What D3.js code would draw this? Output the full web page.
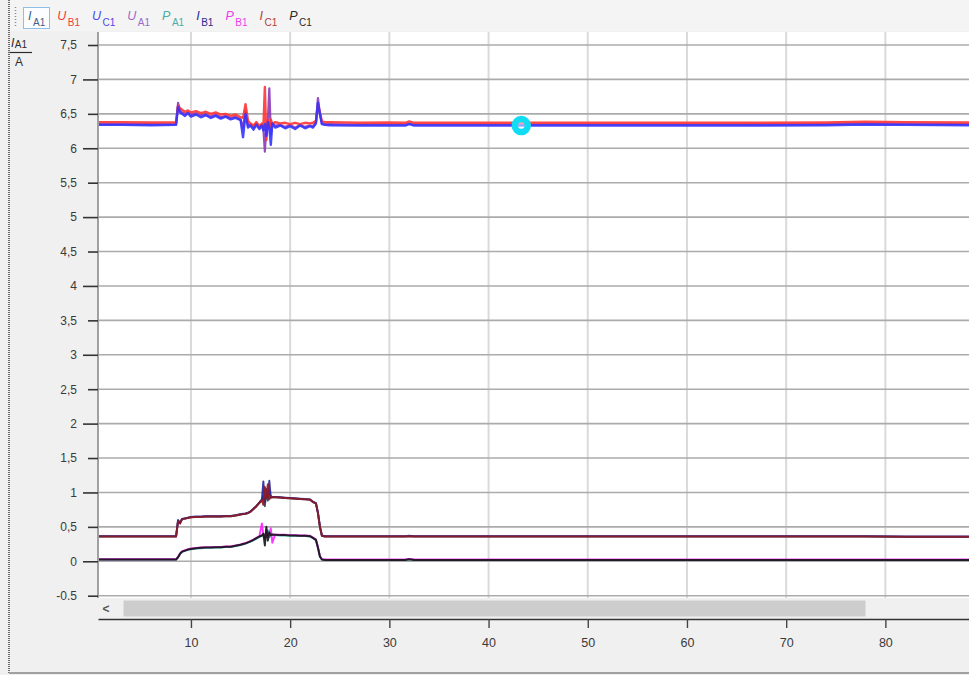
<!DOCTYPE html>
<html>
<head>
<meta charset="utf-8">
<script src="https://cdn.jsdelivr.net/npm/d3@7"></script>
<style>
  html, body { margin: 0; padding: 0; background: #f0f0f0; }
  svg { display: block; font-family: "Liberation Sans", Arial, sans-serif; }
</style>
</head>
<body>
<svg id="chart" width="969" height="675"></svg>
<script>
// ---- recorded channels (time in s) ----
const time = [0.6, 3, 6, 8.5, 8.7, 8.9, 9.1, 9.4, 9.7, 10, 10.5, 11, 11.5, 12, 12.5, 13, 13.5, 14, 14.5, 15,
  15.25, 15.5, 15.75, 16, 16.3, 16.6, 16.9, 17.15, 17.3, 17.45, 17.6, 17.75, 17.9, 18.05, 18.2,
  18.5, 19, 19.5, 20, 20.5, 21, 21.5, 22, 22.3, 22.6, 22.8, 23, 23.2, 23.5, 24,
  27, 30, 31.6, 32, 32.5, 36, 42, 50, 58, 66, 74, 78, 82, 88.5];

const uA1 = [6.35, 6.35, 6.35, 6.35,
  6.66, 6.55, 6.52, 6.50, 6.52, 6.49, 6.51, 6.48, 6.50, 6.46, 6.49, 6.45, 6.47, 6.44, 6.46, 6.42,
  6.30, 6.55, 6.33, 6.35, 6.30, 6.36, 6.30, 6.34, 6.28, 5.95, 6.30, 6.40, 6.87, 6.20, 6.36,
  6.33, 6.34, 6.31, 6.34, 6.30, 6.34, 6.31, 6.33, 6.32, 6.38, 6.73, 6.50, 6.36, 6.35, 6.35,
  6.345, 6.345, 6.345, 6.36, 6.345, 6.345, 6.345, 6.345, 6.345, 6.345, 6.35, 6.36, 6.355, 6.35];

const uB1 = [6.38, 6.38, 6.375, 6.38,
  6.62, 6.58, 6.56, 6.53, 6.55, 6.52, 6.54, 6.51, 6.53, 6.50, 6.52, 6.49, 6.50, 6.47, 6.49, 6.45,
  6.44, 6.64, 6.40, 6.36, 6.33, 6.38, 6.32, 6.36, 6.30, 6.89, 6.12, 6.40, 6.30, 6.42, 6.35,
  6.38, 6.36, 6.37, 6.35, 6.37, 6.35, 6.37, 6.36, 6.37, 6.40, 6.63, 6.52, 6.39, 6.38, 6.38,
  6.37, 6.375, 6.37, 6.39, 6.37, 6.37, 6.37, 6.37, 6.37, 6.37, 6.375, 6.385, 6.38, 6.375];

const uC1 = [6.34, 6.34, 6.335, 6.34,
  6.60, 6.52, 6.50, 6.47, 6.51, 6.46, 6.49, 6.45, 6.48, 6.44, 6.47, 6.43, 6.46, 6.42, 6.44, 6.41,
  6.16, 6.50, 6.30, 6.33, 6.27, 6.34, 6.28, 6.33, 6.26, 6.35, 6.18, 6.38, 6.30, 6.05, 6.36,
  6.30, 6.33, 6.29, 6.32, 6.28, 6.33, 6.29, 6.32, 6.30, 6.36, 6.66, 6.50, 6.35, 6.34, 6.335,
  6.33, 6.33, 6.33, 6.35, 6.33, 6.33, 6.33, 6.33, 6.33, 6.33, 6.335, 6.345, 6.34, 6.335];

const iA1 = [0.36, 0.36, 0.36, 0.36,
  0.59, 0.55, 0.615, 0.62, 0.63, 0.64, 0.645, 0.645, 0.65, 0.65, 0.65, 0.65, 0.655, 0.655, 0.665, 0.68,
  0.685, 0.69, 0.70, 0.72, 0.76, 0.80, 0.85, 0.89, 0.95, 0.80, 1.00, 0.88, 1.02, 0.92, 0.93,
  0.93, 0.925, 0.92, 0.915, 0.91, 0.905, 0.90, 0.895, 0.86, 0.84, 0.70, 0.50, 0.37, 0.36, 0.36,
  0.36, 0.36, 0.36, 0.365, 0.36, 0.36, 0.36, 0.36, 0.36, 0.36, 0.36, 0.36, 0.355, 0.355];

const iB1 = [0.365, 0.365, 0.365, 0.365,
  0.60, 0.56, 0.615, 0.625, 0.635, 0.645, 0.65, 0.65, 0.655, 0.655, 0.655, 0.655, 0.66, 0.66, 0.67, 0.685,
  0.69, 0.695, 0.705, 0.725, 0.765, 0.805, 0.855, 0.90, 1.16, 0.86, 1.05, 0.92, 1.17, 0.93, 0.935,
  0.935, 0.93, 0.925, 0.92, 0.915, 0.91, 0.905, 0.90, 0.865, 0.845, 0.71, 0.51, 0.375, 0.365, 0.365,
  0.365, 0.365, 0.365, 0.37, 0.365, 0.365, 0.365, 0.365, 0.365, 0.365, 0.365, 0.365, 0.36, 0.36];

const iC1 = [0.36, 0.36, 0.36, 0.36,
  0.58, 0.55, 0.61, 0.62, 0.63, 0.64, 0.645, 0.645, 0.65, 0.65, 0.65, 0.65, 0.655, 0.655, 0.665, 0.68,
  0.685, 0.69, 0.70, 0.72, 0.76, 0.80, 0.85, 0.89, 0.82, 1.08, 0.92, 1.12, 0.90, 0.95, 0.93,
  0.93, 0.925, 0.92, 0.915, 0.91, 0.905, 0.90, 0.895, 0.86, 0.84, 0.70, 0.50, 0.37, 0.36, 0.36,
  0.36, 0.36, 0.36, 0.365, 0.36, 0.36, 0.36, 0.36, 0.36, 0.36, 0.36, 0.36, 0.355, 0.355];

const pA1 = [0.025, 0.025, 0.025, 0.025,
  0.055, 0.105, 0.135, 0.15, 0.165, 0.175, 0.185, 0.19, 0.195, 0.195, 0.2, 0.2, 0.205, 0.205, 0.22, 0.235,
  0.245, 0.255, 0.27, 0.285, 0.305, 0.33, 0.355, 0.37, 0.39, 0.36, 0.42, 0.45, 0.35, 0.37, 0.385,
  0.38, 0.375, 0.375, 0.37, 0.37, 0.365, 0.365, 0.36, 0.335, 0.305, 0.195, 0.065, 0.025, 0.02, 0.02,
  0.02, 0.02, 0.02, 0.03, 0.02, 0.02, 0.02, 0.02, 0.02, 0.02, 0.02, 0.02, 0.02, 0.02];

const pB1 = [0.03, 0.03, 0.03, 0.03,
  0.065, 0.115, 0.145, 0.16, 0.175, 0.185, 0.195, 0.2, 0.205, 0.205, 0.21, 0.21, 0.215, 0.215, 0.23, 0.245,
  0.255, 0.265, 0.28, 0.295, 0.315, 0.34, 0.365, 0.55, 0.38, 0.33, 0.45, 0.36, 0.40, 0.48, 0.27,
  0.39, 0.385, 0.385, 0.38, 0.38, 0.375, 0.375, 0.37, 0.345, 0.315, 0.205, 0.075, 0.03, 0.025, 0.025,
  0.025, 0.025, 0.025, 0.035, 0.025, 0.025, 0.025, 0.025, 0.025, 0.025, 0.025, 0.025, 0.025, 0.025];

const pC1 = [0.025, 0.025, 0.025, 0.025,
  0.06, 0.11, 0.14, 0.155, 0.17, 0.18, 0.19, 0.195, 0.20, 0.20, 0.205, 0.205, 0.21, 0.21, 0.225, 0.24,
  0.25, 0.26, 0.275, 0.29, 0.31, 0.335, 0.36, 0.375, 0.40, 0.23, 0.50, 0.30, 0.42, 0.38, 0.39,
  0.385, 0.38, 0.38, 0.375, 0.375, 0.37, 0.37, 0.365, 0.34, 0.31, 0.20, 0.07, 0.025, 0.02, 0.02,
  0.02, 0.02, 0.02, 0.03, 0.02, 0.02, 0.02, 0.02, 0.02, 0.02, 0.02, 0.02, 0.02, 0.02];

// cursor position on the U channels
const cursorTime = 43.3;
const cursorValue = 6.33;

// axis ticks
const yTicks = [-0.5, 0, 0.5, 1, 1.5, 2, 2.5, 3, 3.5, 4, 4.5, 5, 5.5, 6, 6.5, 7, 7.5];
const yTickLabels = ["-0.5", "0", "0,5", "1", "1,5", "2", "2,5", "3", "3,5", "4", "4,5", "5", "5,5", "6", "6,5", "7", "7,5"];
const xTicks = [10, 20, 30, 40, 50, 60, 70, 80];
const xTickLabels = ["10", "20", "30", "40", "50", "60", "70", "80"];

// channel selector
const channelSymbols = ["I", "U", "U", "U", "P", "I", "P", "I", "P"];
const channelSubs = ["A1", "B1", "C1", "A1", "A1", "B1", "B1", "C1", "C1"];
const yTitleSymbol = "I";
const yTitleSub = "A1";
const yTitleUnit = "A";

// ---- styling ----
const legendColors = ["#3f5f86", "#f03c3c", "#4a4af0", "#9a6cc8", "#4aaea4", "#2a2a8e", "#ee3cee", "#b03c3c", "#2a2a2a"];
const traceStyle = [
  { values: pA1, color: "#20b0a0", width: 1.9 },
  { values: pB1, color: "#ff20ff", width: 1.9 },
  { values: pC1, color: "#141414", width: 2.0 },
  { values: iA1, color: "#2a3a60", width: 1.9 },
  { values: iB1, color: "#2424a0", width: 1.9 },
  { values: iC1, color: "#8e1c24", width: 2.0 },
  { values: uA1, color: "#8a3ab8", width: 2.2 },
  { values: uB1, color: "#ff3434", width: 2.4 },
  { values: uC1, color: "#3434ff", width: 2.4 }
];

const W = 969, H = 675;
const plot = { left: 98, right: 969, top: 32, bottom: 598 };
const axisY = 619;

const svg = d3.select("#chart");

const x = d3.scaleLinear().domain([0.63, 88.43]).range([plot.left, plot.right]);
const y = d3.scaleLinear().domain([-0.5, 7.5]).range([595.7, 45]);

// window background
svg.append("rect").attr("width", W).attr("height", H).attr("fill", "#f0f0f0");
svg.append("rect").attr("x", 10).attr("y", 0).attr("width", W - 10).attr("height", 31).attr("fill", "#f4f4f4");

// plot surface
svg.append("rect")
  .attr("x", plot.left).attr("y", plot.top)
  .attr("width", plot.right - plot.left).attr("height", plot.bottom - plot.top)
  .attr("fill", "#ffffff");

// vertical grid
svg.append("g").selectAll("line").data(xTicks).join("line")
  .attr("x1", d => x(d)).attr("x2", d => x(d))
  .attr("y1", plot.top).attr("y2", plot.bottom)
  .attr("stroke", "#dadada").attr("stroke-width", 2);

// horizontal grid
svg.append("g").selectAll("line").data(yTicks).join("line")
  .attr("x1", plot.left).attr("x2", plot.right)
  .attr("y1", d => y(d)).attr("y2", d => y(d))
  .attr("stroke", "#ababab").attr("stroke-width", 1.6);

// traces
svg.append("clipPath").attr("id", "plotClip").append("rect")
  .attr("x", plot.left + 1).attr("y", plot.top)
  .attr("width", plot.right - plot.left - 1).attr("height", plot.bottom - plot.top);

const line = d3.line().x((d, i) => x(time[i])).y(d => y(d));
svg.append("g").attr("clip-path", "url(#plotClip)")
  .selectAll("path").data(traceStyle).join("path")
  .attr("d", d => line(d.values))
  .attr("fill", "none")
  .attr("stroke", d => d.color)
  .attr("stroke-width", d => d.width)
  .attr("stroke-linejoin", "round")
  .attr("stroke-opacity", 0.9);

// cursor marker
svg.append("circle")
  .attr("cx", x(cursorTime)).attr("cy", y(cursorValue)).attr("r", 6.5)
  .attr("fill", "rgba(235,255,255,0.55)")
  .attr("stroke", "#10dcf4").attr("stroke-width", 6.5);

// y axis line
svg.append("line")
  .attr("x1", plot.left).attr("x2", plot.left)
  .attr("y1", plot.top).attr("y2", plot.bottom)
  .attr("stroke", "#a0a0a0").attr("stroke-width", 2);

// y axis ticks: whole numbers get the longer tick
const labelOf = v => yTickLabels[yTicks.indexOf(v)];
function styleAxis(g) {
  g.select(".domain").remove();
  g.selectAll(".tick line").attr("stroke", "#333").attr("stroke-width", 1.6);
  g.selectAll(".tick text").attr("fill", "#3a3a3a").style("font-size", "12px");
}
svg.append("g").attr("transform", `translate(${plot.left},0)`)
  .call(d3.axisLeft(y).tickValues(yTicks.filter(v => Number.isInteger(v)))
    .tickFormat(labelOf).tickSize(15).tickPadding(6))
  .call(styleAxis);
svg.append("g").attr("transform", `translate(${plot.left},0)`)
  .call(d3.axisLeft(y).tickValues(yTicks.filter(v => !Number.isInteger(v)))
    .tickFormat(labelOf).tickSize(10).tickPadding(11))
  .call(styleAxis);

// scroll bar under the plot
svg.append("rect").attr("x", plot.left).attr("y", 599).attr("width", plot.right - plot.left).attr("height", 19)
  .attr("fill", "#f0f0f0");
svg.append("rect").attr("x", 123.5).attr("y", 600.5).attr("width", 742).attr("height", 16)
  .attr("fill", "#cdcdcd");
svg.append("text").attr("x", 106).attr("y", 613).attr("text-anchor", "middle")
  .attr("fill", "#555").style("font-size", "12px").style("font-weight", "bold").text("<");

// x axis
const xAxis = svg.append("g").attr("transform", `translate(0,${axisY})`)
  .call(d3.axisBottom(x).tickValues(xTicks).tickFormat((d, i) => xTickLabels[i])
    .tickSize(9).tickSizeOuter(0).tickPadding(10));
xAxis.select(".domain").attr("stroke", "#333").attr("stroke-width", 1.6);
xAxis.selectAll(".tick line").attr("stroke", "#444").attr("stroke-width", 1.4);
xAxis.selectAll(".tick text").attr("fill", "#3a3a3a").style("font-size", "12.5px");

// y axis title: I_A1 over A
const yTitle = svg.append("text").attr("x", 11).attr("y", 47).attr("fill", "#2c2c2c").style("font-size", "12px");
yTitle.append("tspan").style("font-style", "italic").text(yTitleSymbol);
yTitle.append("tspan").attr("dx", 0.5).attr("dy", 1).style("font-size", "10px").text(yTitleSub);
svg.append("line").attr("x1", 8).attr("x2", 32).attr("y1", 52.5).attr("y2", 52.5)
  .attr("stroke", "#2c2c2c").attr("stroke-width", 1.2);
svg.append("text").attr("x", 15).attr("y", 66).attr("fill", "#2c2c2c").style("font-size", "12px").text(yTitleUnit);

// channel selector strip
svg.append("rect").attr("x", 23.5).attr("y", 7.5).attr("width", 26).attr("height", 21)
  .attr("fill", "#fbfdff").attr("stroke", "#8dbfe8").attr("stroke-width", 1);
let cx = 28;
channelSymbols.forEach((sym, i) => {
  const t = svg.append("text").attr("x", cx).attr("y", 20).attr("fill", legendColors[i]).style("font-size", "12.5px");
  t.append("tspan").style("font-style", "italic").text(sym);
  t.append("tspan").attr("dx", 1.5).attr("dy", 5.5).style("font-size", "10px").text(channelSubs[i]);
  cx += t.node().getComputedTextLength() + 13.5;
});

// grip and window frame
svg.append("line").attr("x1", 15.5).attr("x2", 15.5).attr("y1", 7).attr("y2", 28)
  .attr("stroke", "#8a8a8a").attr("stroke-width", 1.5).attr("stroke-dasharray", "1,2");
svg.append("line").attr("x1", 9).attr("x2", 9).attr("y1", 0).attr("y2", 673)
  .attr("stroke", "#6a6a6a").attr("stroke-width", 2).attr("stroke-dasharray", "1,1");
svg.append("line").attr("x1", 9).attr("x2", W).attr("y1", 673).attr("y2", 673)
  .attr("stroke", "#a0a0a0").attr("stroke-width", 2);
</script>
</body>
</html>
